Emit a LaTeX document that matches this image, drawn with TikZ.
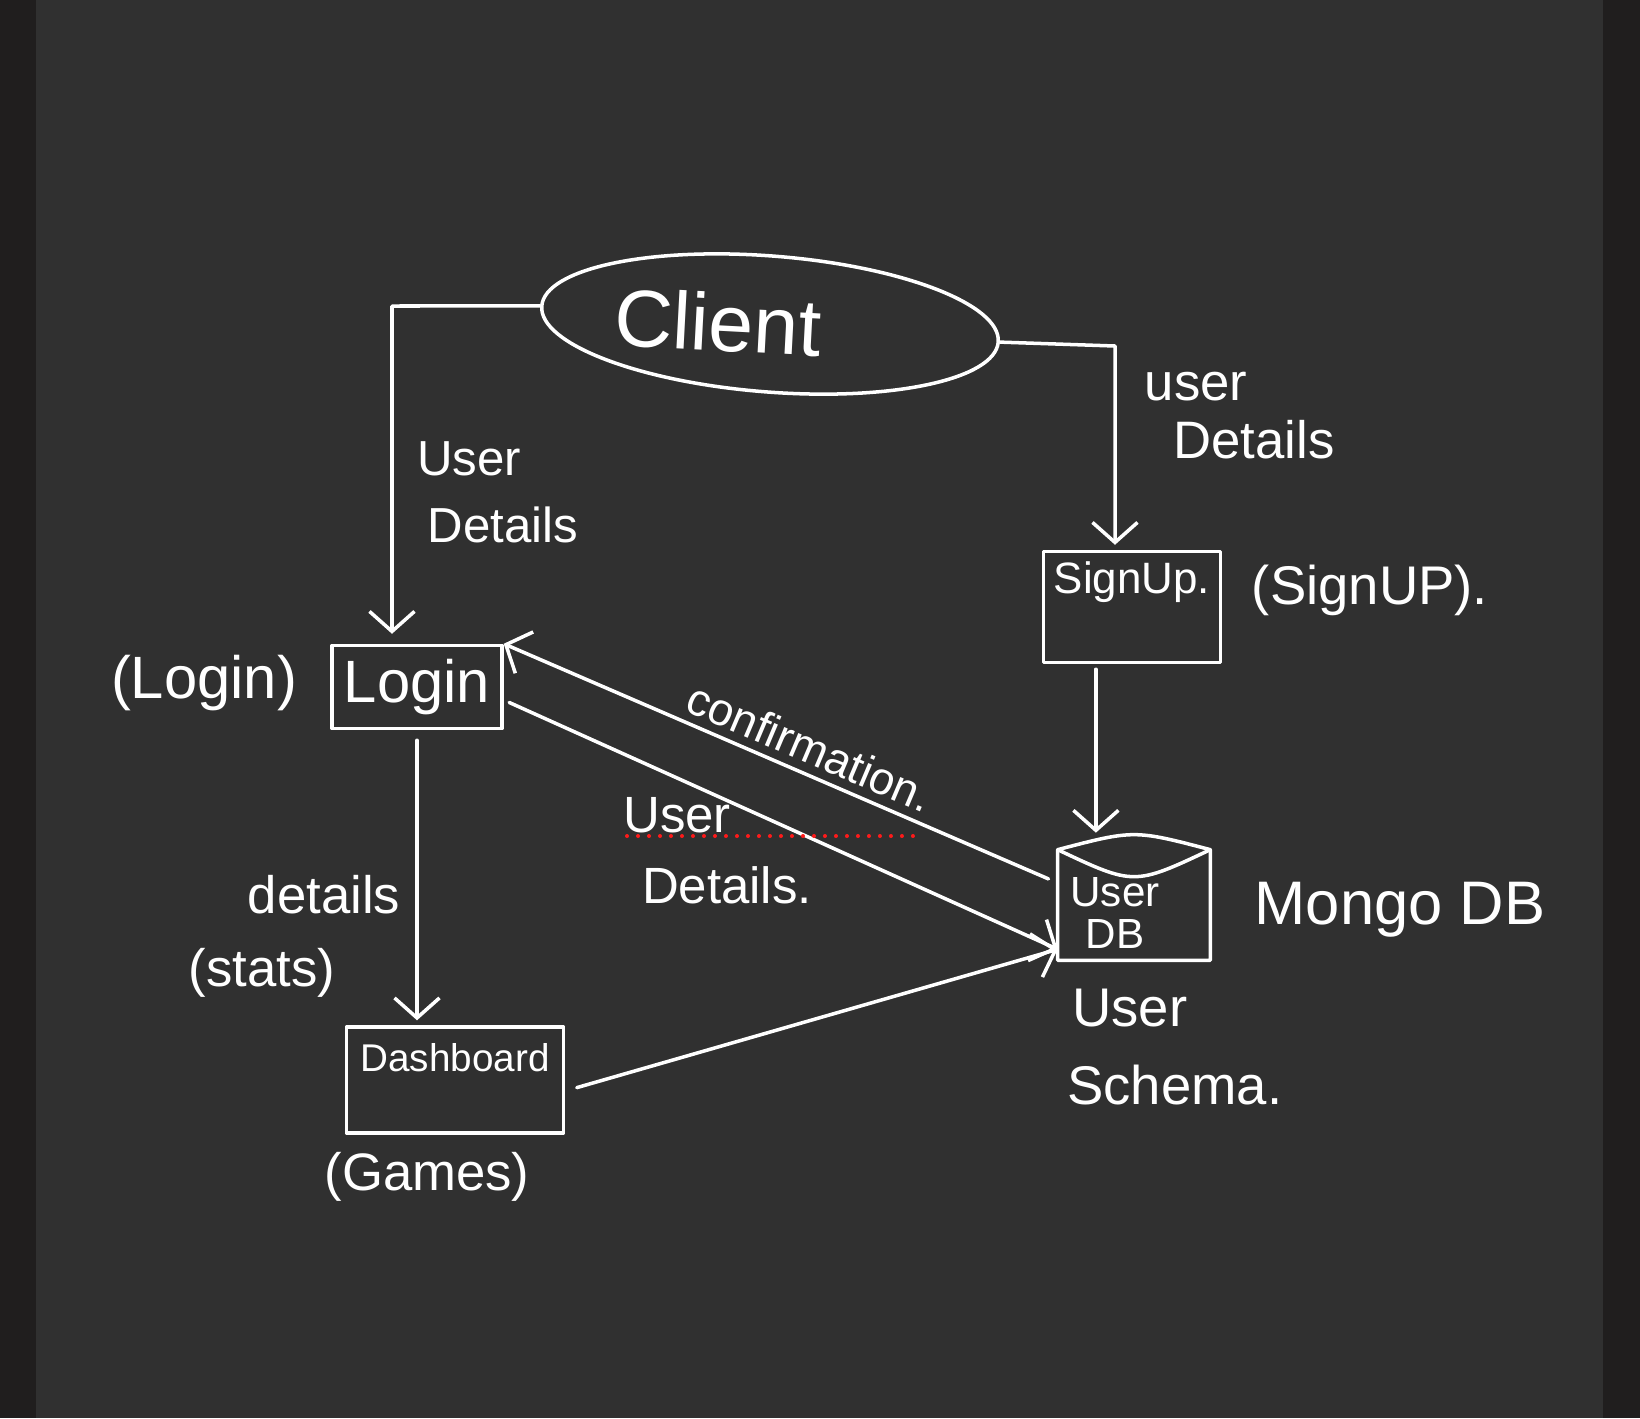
\documentclass[tikz,border=0pt]{standalone}
\usepackage{fontspec}
\setmainfont{Liberation Sans}
\usetikzlibrary{arrows.meta,positioning,calc,shapes.geometric}
\definecolor{board}{HTML}{303030}
\definecolor{rim}{HTML}{201E1E}
\definecolor{spell}{HTML}{FF1A1A}
\newcommand{\fsz}[1]{\fontsize{#1}{#1}\selectfont}
\tikzset{
  ink/.style={draw=white, line width=2pt, line cap=round, line join=round},
  arr/.style={ink, -{Straight Barb[length=4mm,width=9mm]}},
  box/.style={ink, inner sep=0pt, text=white},
  txt/.style={text=white, inner sep=0pt},
}

\begin{document}
\begin{tikzpicture}[x=0.02cm, y=-0.02cm]
\fill[rim]   (0,0)  rectangle (1640,1418);
\fill[board] (36,0) rectangle (1603,1418);
% main boxes
\node[box, ellipse, minimum width=9.16cm, minimum height=2.72cm, rotate=-4.5] (client) at (770,324) {};
\node[box, minimum width=3.4cm, minimum height=1.66cm, font=\fsz{34}] (login) at (417,687) {Login};
\node[box, minimum width=3.54cm, minimum height=2.22cm,
      label={[txt, font=\fsz{25}, anchor=north, yshift=-0.24cm]north:SignUp.}] (signup) at (1132,607) {};
\node[box, minimum width=4.34cm, minimum height=2.12cm,
      label={[txt, font=\fsz{22}, anchor=north, yshift=-0.36cm]north:Dashboard}] (dash) at (455,1080) {};
\node[inner sep=0pt, minimum width=3.04cm, minimum height=2.2cm] (db) at (1134,905) {};
\draw[ink] (db.north west) .. controls ($(db.north)+(0,-20)$) .. (db.north east)
           -- (db.south east) -- (db.south west) -- cycle;
\draw[ink] (db.north west) .. controls ($(db.north)+(0,36)$) .. (db.north east);
% texts
\node[txt, font=\fsz{46}, rotate=-3]  (clientlbl) at (718,322)  {Client};
\node[txt, align=center, font=\fsz{24}] (dblbl) at (1115,913) {User\\DB};
\node[txt, font=\fsz{34}]  (loginlbl)  at (204,683)  {(Login)};
\node[txt, font=\fsz{28}]  (ud1a)      at (469,459)  {User};
\node[txt, font=\fsz{28}]  (ud1b)      at (503,525)  {Details};
\node[txt, font=\fsz{30}]  (ud2a)      at (1196,387) {user};
\node[txt, font=\fsz{30}]  (ud2b)      at (1254,440) {Details};
\node[txt, font=\fsz{31}]  (signlbl)   at (1370,590) {(SignUP).};
\node[txt, font=\fsz{26}, rotate=-23] (conf) at (810,747) {confirmation.};
\node[txt, font=\fsz{29}]  (ud3a)      at (677,815)  {User};
\node[txt, font=\fsz{29}]  (ud3b)      at (727,885)  {Details.};
\node[txt, font=\fsz{30}]  (stats1)    at (324,895)  {details};
\node[txt, font=\fsz{30}]  (stats2)    at (262,973)  {(stats)};
\node[txt, font=\fsz{30}]  (games)     at (427,1177) {(Games)};
\node[txt, font=\fsz{35}]  (mongo)     at (1400,910) {Mongo DB};
\node[txt, font=\fsz{31}, anchor=west] (schema1) at (1072,1008) {User};
\node[txt, font=\fsz{31}, anchor=west] (schema2) at (1067,1085) {Schema.};
% connectors
\coordinate (lc)   at (392,306);
\coordinate (rc)   at (1115,346);
\coordinate (sd)   at ($(signup.south west)!0.3!(signup.south east)$);
\coordinate (dbin) at ($(db.west)!0.8!(db.south west)$);
\draw[arr, shorten >=0.2cm] (client.west) -- (lc) -- (lc |- login.north);
\draw[arr, shorten >=0.1cm] (client.east) -- (rc) -- (rc |- signup.north);
\draw[arr, shorten <=0.1cm, shorten >=0.34cm] (sd) -- (sd |- db.north);
\draw[arr, shorten <=0.2cm, shorten >=0.1cm] (login.south) -- (login.south |- dash.north);
\draw[arr, shorten <=0.2cm] ($(db.north west)!0.3!(db.south west)$) -- (login.north east);
\draw[arr, shorten <=0.12cm] ($(login.east)!0.3!(login.south east)$) -- (dbin);
\draw[arr, shorten <=0.24cm] ($(dash.east)!0.2!(dash.south east)$) -- (dbin);
% spell check marks
\draw[spell, line width=0.08cm, line cap=round, dash pattern=on 0pt off 0.22cm] (627,836) -- (922,836);
\end{tikzpicture}
\end{document}
